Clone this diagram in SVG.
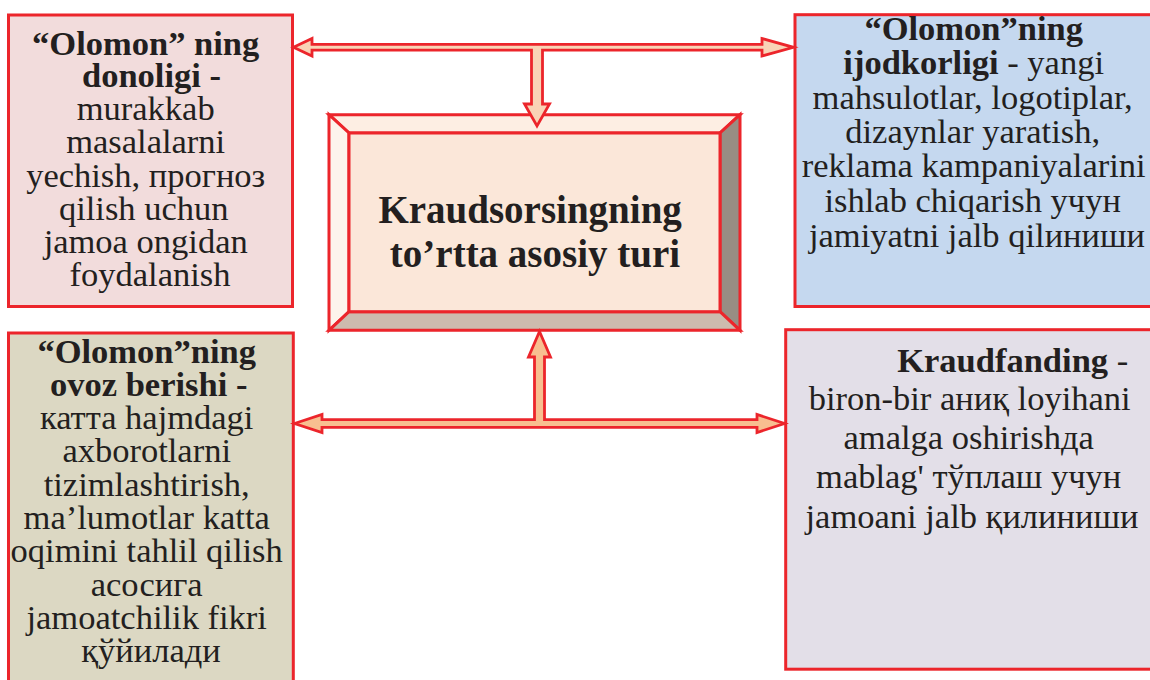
<svg xmlns="http://www.w3.org/2000/svg" width="1150" height="680" viewBox="0 0 1150 680">
  <style>
    .box { stroke: #ec252b; stroke-width: 3; }
    .txt { font-family: "Liberation Serif", "DejaVu Serif", serif; font-size: 34.5px; fill: #231f20; text-anchor: middle; }
    .b { font-weight: bold; }
    .title { font-family: "Liberation Serif", "DejaVu Serif", serif; font-size: 39px; font-weight: bold; fill: #231f20; text-anchor: middle; }
    .arrow { stroke: #ec252b; stroke-width: 2.8; stroke-linejoin: miter; }
    .bevel { stroke: #ec252b; stroke-width: 3; stroke-linejoin: miter; }
  </style>
  <rect width="1150" height="680" fill="#ffffff"/>

  <!-- top-left: wisdom of the crowd -->
  <g id="node-donoligi">
    <rect class="box" x="8.5" y="15" width="284" height="291.5" fill="#f2dcdc"/>
    <text class="txt">
      <tspan class="b" x="150" y="55">“Olomon” ning</tspan>
      <tspan class="b" x="82" y="87" style="text-anchor:start">donoligi -</tspan>
      <tspan x="150" y="120">murakkab</tspan>
      <tspan x="150" y="153">masalalarni</tspan>
      <tspan x="150" y="187">yechish, прогноз</tspan>
      <tspan x="148" y="220">qilish uchun</tspan>
      <tspan x="150" y="253">jamoa ongidan</tspan>
      <tspan x="150" y="286">foydalanish</tspan>
    </text>
  </g>

  <!-- top-right: creativity of the crowd -->
  <g id="node-ijodkorligi">
    <rect class="box" x="795" y="14.7" width="370" height="291.8" fill="#c5d8ef"/>
    <text class="txt">
      <tspan class="b" x="978" y="40">“Olomon”ning</tspan>
      <tspan x="978" y="74"><tspan class="b">ijodkorligi</tspan> - yangi</tspan>
      <tspan x="977" y="109">mahsulotlar, logotiplar,</tspan>
      <tspan x="977" y="143">dizaynlar yaratish,</tspan>
      <tspan x="978" y="177">reklama kampaniyalarini</tspan>
      <tspan x="977" y="212">ishlab chiqarish учун</tspan>
      <tspan x="977" y="247">jamiyatni jalb qilиниши</tspan>
    </text>
  </g>

  <!-- bottom-left: voting of the crowd -->
  <g id="node-ovoz-berishi">
    <rect class="box" x="8.5" y="333" width="284.8" height="360" fill="#dcd8c3"/>
    <text class="txt">
      <tspan class="b" x="151" y="363">“Olomon”ning</tspan>
      <tspan class="b" x="153" y="396">ovoz berishi -</tspan>
      <tspan x="151" y="429">катта hajmdagi</tspan>
      <tspan x="151" y="462">axborotlarni</tspan>
      <tspan x="151" y="496">tizimlashtirish,</tspan>
      <tspan x="151" y="529">ma’lumotlar katta</tspan>
      <tspan x="151" y="562">oqimini tahlil qilish</tspan>
      <tspan x="151" y="596">асосига</tspan>
      <tspan x="151" y="629">jamoatchilik fikri</tspan>
      <tspan x="151" y="662">қўйилади</tspan>
    </text>
  </g>

  <!-- bottom-right: crowdfunding -->
  <g id="node-kraudfanding">
    <rect class="box" x="785.7" y="329.7" width="380" height="339.5" fill="#e3dfe8"/>
    <text class="txt">
      <tspan x="1017" y="372"><tspan class="b">Kraudfanding</tspan> -</tspan>
      <tspan x="974" y="410">biron-bir аниқ loyihani</tspan>
      <tspan x="973" y="449">amalga oshirishда</tspan>
      <tspan x="973" y="488">mablag' тўплаш учун</tspan>
      <tspan x="972" y="528">jamoani jalb қилиниши</tspan>
    </text>
  </g>

  <!-- centre: bevelled title block -->
  <g id="node-center">
    <polygon class="bevel" points="329,114.7 740,114.7 720,133 349,133" fill="#fdeee3"/>
    <polygon class="bevel" points="329,114.7 349,133 349,311.7 329,330.3" fill="#fdf4ec"/>
    <polygon class="bevel" points="740,114.7 740,330.3 720,311.7 720,133" fill="#988d83"/>
    <polygon class="bevel" points="329,330.3 349,311.7 720,311.7 740,330.3" fill="#cdbbae"/>
    <rect class="bevel" x="349" y="133" width="371" height="178.7" fill="#fbe7d9"/>
    <text class="title">
      <tspan x="535" y="223">Kraudsorsingning</tspan>
      <tspan x="535" y="267">to’rtta asosiy turi</tspan>
    </text>
  </g>

  <!-- connectors: block arrows -->
  <g id="connectors">
    <polygon class="arrow" fill="#f9d3b6" points="293.5,47.3 312,38.5 312,44.4 762,44.4 762,38.5 793.5,47.3 762,56 762,50.2 542.5,50.2 542.5,104 549.5,104 537,126 524.5,104 531.5,104 531.5,50.2 312,50.2 312,56"/>
    <polygon class="arrow" fill="#f8bf90" points="294.5,423.5 322,414.5 322,419.7 534.5,419.7 534.5,357 528.5,357 539.5,331.5 550.5,357 544.5,357 544.5,419.7 757,419.7 757,414.5 784.5,423.5 757,432.5 757,427.3 322,427.3 322,432.5"/>
  </g>
</svg>
